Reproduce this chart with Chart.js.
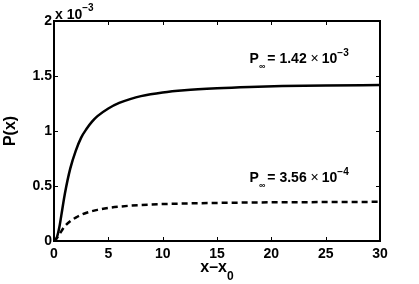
<!DOCTYPE html>
<html>
<head>
<meta charset="utf-8">
<script src="https://cdn.jsdelivr.net/npm/chart.js@4.4.1/dist/chart.umd.min.js"></script>
<style>
  html, body { margin: 0; padding: 0; background: #fff; }
  #wrap { width: 419px; height: 284px; }
</style>
</head>
<body>
<div id="wrap"><canvas id="chart-p"></canvas></div>
<script>
// values in units of 1e-3
const xValues = [0, 0.25, 0.5, 0.75, 1, 1.5, 2, 2.5, 3, 3.5, 4, 5, 6, 7, 8, 10, 12, 15, 18, 21, 25, 30];
const pHigh   = [0, 0.03, 0.13, 0.28, 0.43, 0.66, 0.82, 0.94, 1.02, 1.085, 1.135, 1.205, 1.255, 1.29, 1.317, 1.35, 1.37, 1.388, 1.40, 1.408, 1.414, 1.418];
const pLow    = [0, 0.025, 0.06, 0.10, 0.135, 0.18, 0.213, 0.238, 0.257, 0.271, 0.283, 0.30, 0.312, 0.321, 0.327, 0.336, 0.341, 0.346, 0.350, 0.352, 0.354, 0.356];
const xTicks  = [0, 5, 10, 15, 20, 25, 30];
const yTicks  = [0, 0.5, 1, 1.5, 2];
const yExponent = '\u22123';
const pInfLabels = [
  { mant: '1.42', exp: '\u22123', at: { x: 18, y: 1.62 } },
  { mant: '3.56', exp: '\u22124', at: { x: 18, y: 0.536 } },
];

const FONT = "'Liberation Sans', Arial, Helvetica, sans-serif";
Chart.defaults.font.family = FONT;
Chart.defaults.color = '#000';

const toPts = ys => xValues.map((x, i) => ({ x, y: ys[i] }));

const framePlugin = {
  id: 'frame',
  afterDatasetsDraw(chart) {
    const { ctx, chartArea: a, scales: { x, y } } = chart;
    ctx.save();
    ctx.strokeStyle = '#000';
    ctx.lineWidth = 1;
    ctx.beginPath();
    xTicks.forEach(v => {
      const px = Math.round(x.getPixelForValue(v)) + 0.5;
      ctx.moveTo(px, a.bottom); ctx.lineTo(px, a.bottom - 4);
      ctx.moveTo(px, a.top);    ctx.lineTo(px, a.top + 4);
    });
    yTicks.forEach(v => {
      const py = Math.round(y.getPixelForValue(v)) + 0.5;
      ctx.moveTo(a.left, py);  ctx.lineTo(a.left + 4, py);
      ctx.moveTo(a.right, py); ctx.lineTo(a.right - 4, py);
    });
    ctx.stroke();
    ctx.lineWidth = 2;
    ctx.strokeRect(a.left, a.top, a.right - a.left, a.bottom - a.top);
    ctx.restore();
  },
  afterDraw(chart) {
    const { ctx, chartArea: a, scales: { x, y } } = chart;
    ctx.save();
    ctx.fillStyle = '#000';
    ctx.textBaseline = 'alphabetic';
    ctx.textAlign = 'left';

    // exponent above y axis
    ctx.font = `bold 14px ${FONT}`;
    ctx.fillText('x 10', a.left + 1, a.top - 2);
    let w = ctx.measureText('x 10').width;
    ctx.font = `bold 10px ${FONT}`;
    ctx.fillText(yExponent, a.left + 1 + w, a.top - 10);

    // P_inf annotations
    pInfLabels.forEach(l => {
      let px = x.getPixelForValue(l.at.x);
      const py = y.getPixelForValue(l.at.y);
      ctx.font = `bold 14px ${FONT}`;
      ctx.fillText('P', px, py);
      px += ctx.measureText('P').width;
      ctx.font = `bold 9px ${FONT}`;
      ctx.fillText('\u221E', px, py + 6);
      px += ctx.measureText('\u221E').width + 2;
      ctx.font = `bold 14px ${FONT}`;
      const s = '= ' + l.mant + ' ';
      ctx.fillText(s, px, py);
      px += ctx.measureText(s).width;
      ctx.font = `14px ${FONT}`;
      ctx.fillText('\u00D7', px, py);
      px += ctx.measureText('\u00D7').width + 3;
      ctx.font = `bold 14px ${FONT}`;
      ctx.fillText('10', px, py);
      px += ctx.measureText('10').width;
      ctx.font = `bold 10px ${FONT}`;
      ctx.fillText(l.exp, px, py - 7);
    });

    // x axis title: x-x0
    ctx.font = `bold 16px ${FONT}`;
    const main = 'x\u2013x';
    const mw = ctx.measureText(main).width;
    ctx.font = `bold 12px ${FONT}`;
    const sw = ctx.measureText('0').width;
    const cx = (a.left + a.right) / 2;
    const tx = cx - (mw + sw) / 2;
    ctx.font = `bold 16px ${FONT}`;
    ctx.fillText(main, tx, 272);
    ctx.font = `bold 12px ${FONT}`;
    ctx.fillText('0', tx + mw, 280);

    // y axis title
    ctx.translate(15, (a.top + a.bottom) / 2);
    ctx.rotate(-Math.PI / 2);
    ctx.textAlign = 'center';
    ctx.font = `bold 16px ${FONT}`;
    ctx.fillText('P(x)', 0, 0);
    ctx.restore();
  },
};

new Chart(document.getElementById('chart-p').getContext('2d'), {
  type: 'scatter',
  data: {
    datasets: [
      {
        data: toPts(pHigh),
        showLine: true,
        borderColor: '#000',
        borderWidth: 2.5,
        pointRadius: 0,
        cubicInterpolationMode: 'monotone',
        clip: 4,
      },
      {
        data: toPts(pLow),
        showLine: true,
        borderColor: '#000',
        borderWidth: 2.5,
        borderDash: [6, 4],
        pointRadius: 0,
        cubicInterpolationMode: 'monotone',
        clip: 4,
      },
    ],
  },
  options: {
    responsive: true,
    maintainAspectRatio: false,
    animation: false,
    layout: { padding: { left: 0, right: 39, top: 21, bottom: 0 } },
    plugins: { legend: { display: false }, tooltip: { enabled: false } },
    scales: {
      x: {
        type: 'linear',
        min: 0, max: 30,
        afterBuildTicks: s => { s.ticks = xTicks.map(v => ({ value: v })); },
        afterFit: s => { s.height = 43; },
        grid: { display: false, drawTicks: false },
        border: { display: false },
        ticks: { padding: 5, font: { size: 14, weight: 'bold' }, maxRotation: 0, callback: v => String(v) },
      },
      y: {
        type: 'linear',
        min: 0, max: 2,
        afterBuildTicks: s => { s.ticks = yTicks.map(v => ({ value: v })); },
        afterFit: s => { s.width = 54; },
        grid: { display: false, drawTicks: false },
        border: { display: false },
        ticks: { padding: 2, font: { size: 14, weight: 'bold' }, callback: v => String(v) },
      },
    },
  },
  plugins: [framePlugin],
});
</script>
</body>
</html>
